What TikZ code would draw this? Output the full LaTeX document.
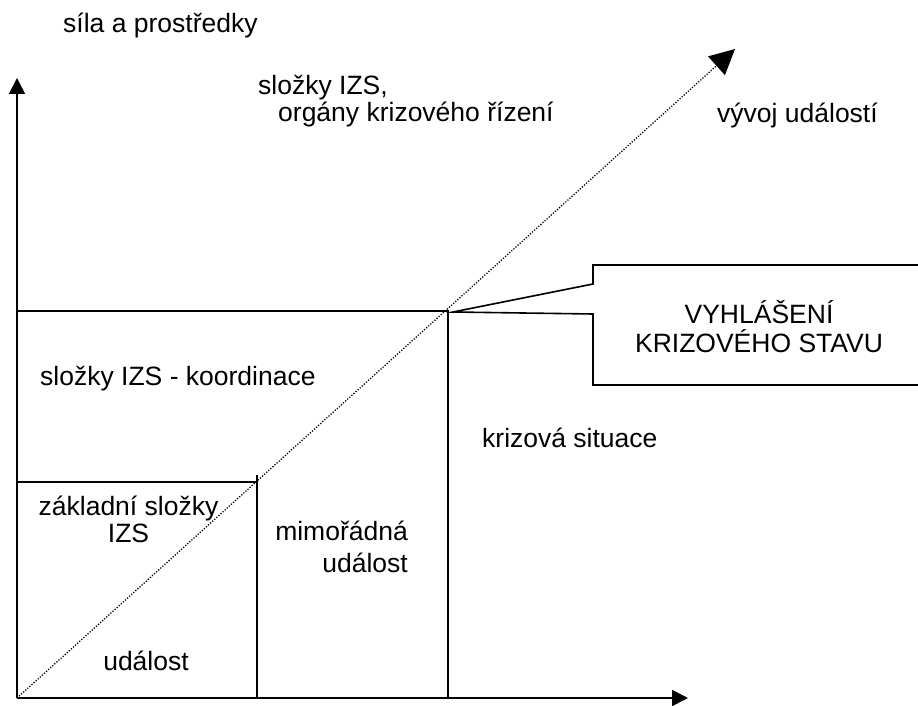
\documentclass[tikz,border=0pt]{standalone}
\usepackage{fontspec}
\setmainfont{Liberation Sans}
\usetikzlibrary{arrows.meta}
\begin{document}
\begin{tikzpicture}[x=1pt,y=-1pt,
  lbl/.style={inner sep=0pt,font=\fontsize{26.5}{30}\selectfont},
  axis/.style={line width=1.6pt,-{Triangle[length=16pt,width=16pt]}},
  frame/.style={line width=1.6pt},
  diag/.style={line width=1.3pt,dash pattern=on 1.2pt off 1.6pt,-{Triangle[length=25pt,width=25pt]}}]
\useasboundingbox (0,0) rectangle (918,706);
\coordinate (O) at (17,698);
\coordinate (ytip) at (17,78);
\coordinate (xtip) at (688,698);
\coordinate (dtip) at (735,49);
\coordinate (a1) at (17,482);
\coordinate (a2) at (257,482);
\coordinate (a3) at (257,475);
\coordinate (a4) at (257,698);
\coordinate (b1) at (17,311);
\coordinate (b2) at (448,311);
\coordinate (b3) at (448,698);
% callout
\coordinate (ptip) at (453,312);
\draw[frame] (593,284) -- (593,265) -- (925,265) -- (925,385) -- (593,385) -- (593,314) -- (ptip) -- cycle;
% frame lines
\draw[frame] (a1) -- (a2);
\draw[frame] (a3) -- (a4);
\draw[frame] (b1) -- (b2) -- (b3);
% axes
\draw[axis] (O) -- (ytip);
\draw[axis] (O) -- (xtip);
\draw[diag] (O) -- (dtip);
% labels
\node[lbl,anchor=base west] (t1) at (63,33) {síla a prostředky};
\node[lbl,anchor=base west] (t2) at (258,95) {složky IZS,};
\node[lbl,anchor=base west] (t3) at (278,122) {orgány krizového řízení};
\node[lbl,anchor=base west] (t4) at (717,123) {vývoj událostí};
\node[lbl,anchor=base] (t5) at (759,323) {VYHLÁŠENÍ};
\node[lbl,anchor=base] (t6) at (759,352) {KRIZOVÉHO STAVU};
\node[lbl,anchor=base west] (t7) at (40,385) {složky IZS - koordinace};
\node[lbl,anchor=base west] (t8) at (482,447) {krizová situace};
\node[lbl,anchor=base] (t9) at (128.5,515) {základní složky};
\node[lbl,anchor=base] (t10) at (128.5,542) {IZS};
\node[lbl,anchor=base east] (t11) at (408,540) {mimořádná};
\node[lbl,anchor=base east] (t12) at (408,572) {událost};
\node[lbl,anchor=base] (t13) at (146,670) {událost};
\end{tikzpicture}
\end{document}
